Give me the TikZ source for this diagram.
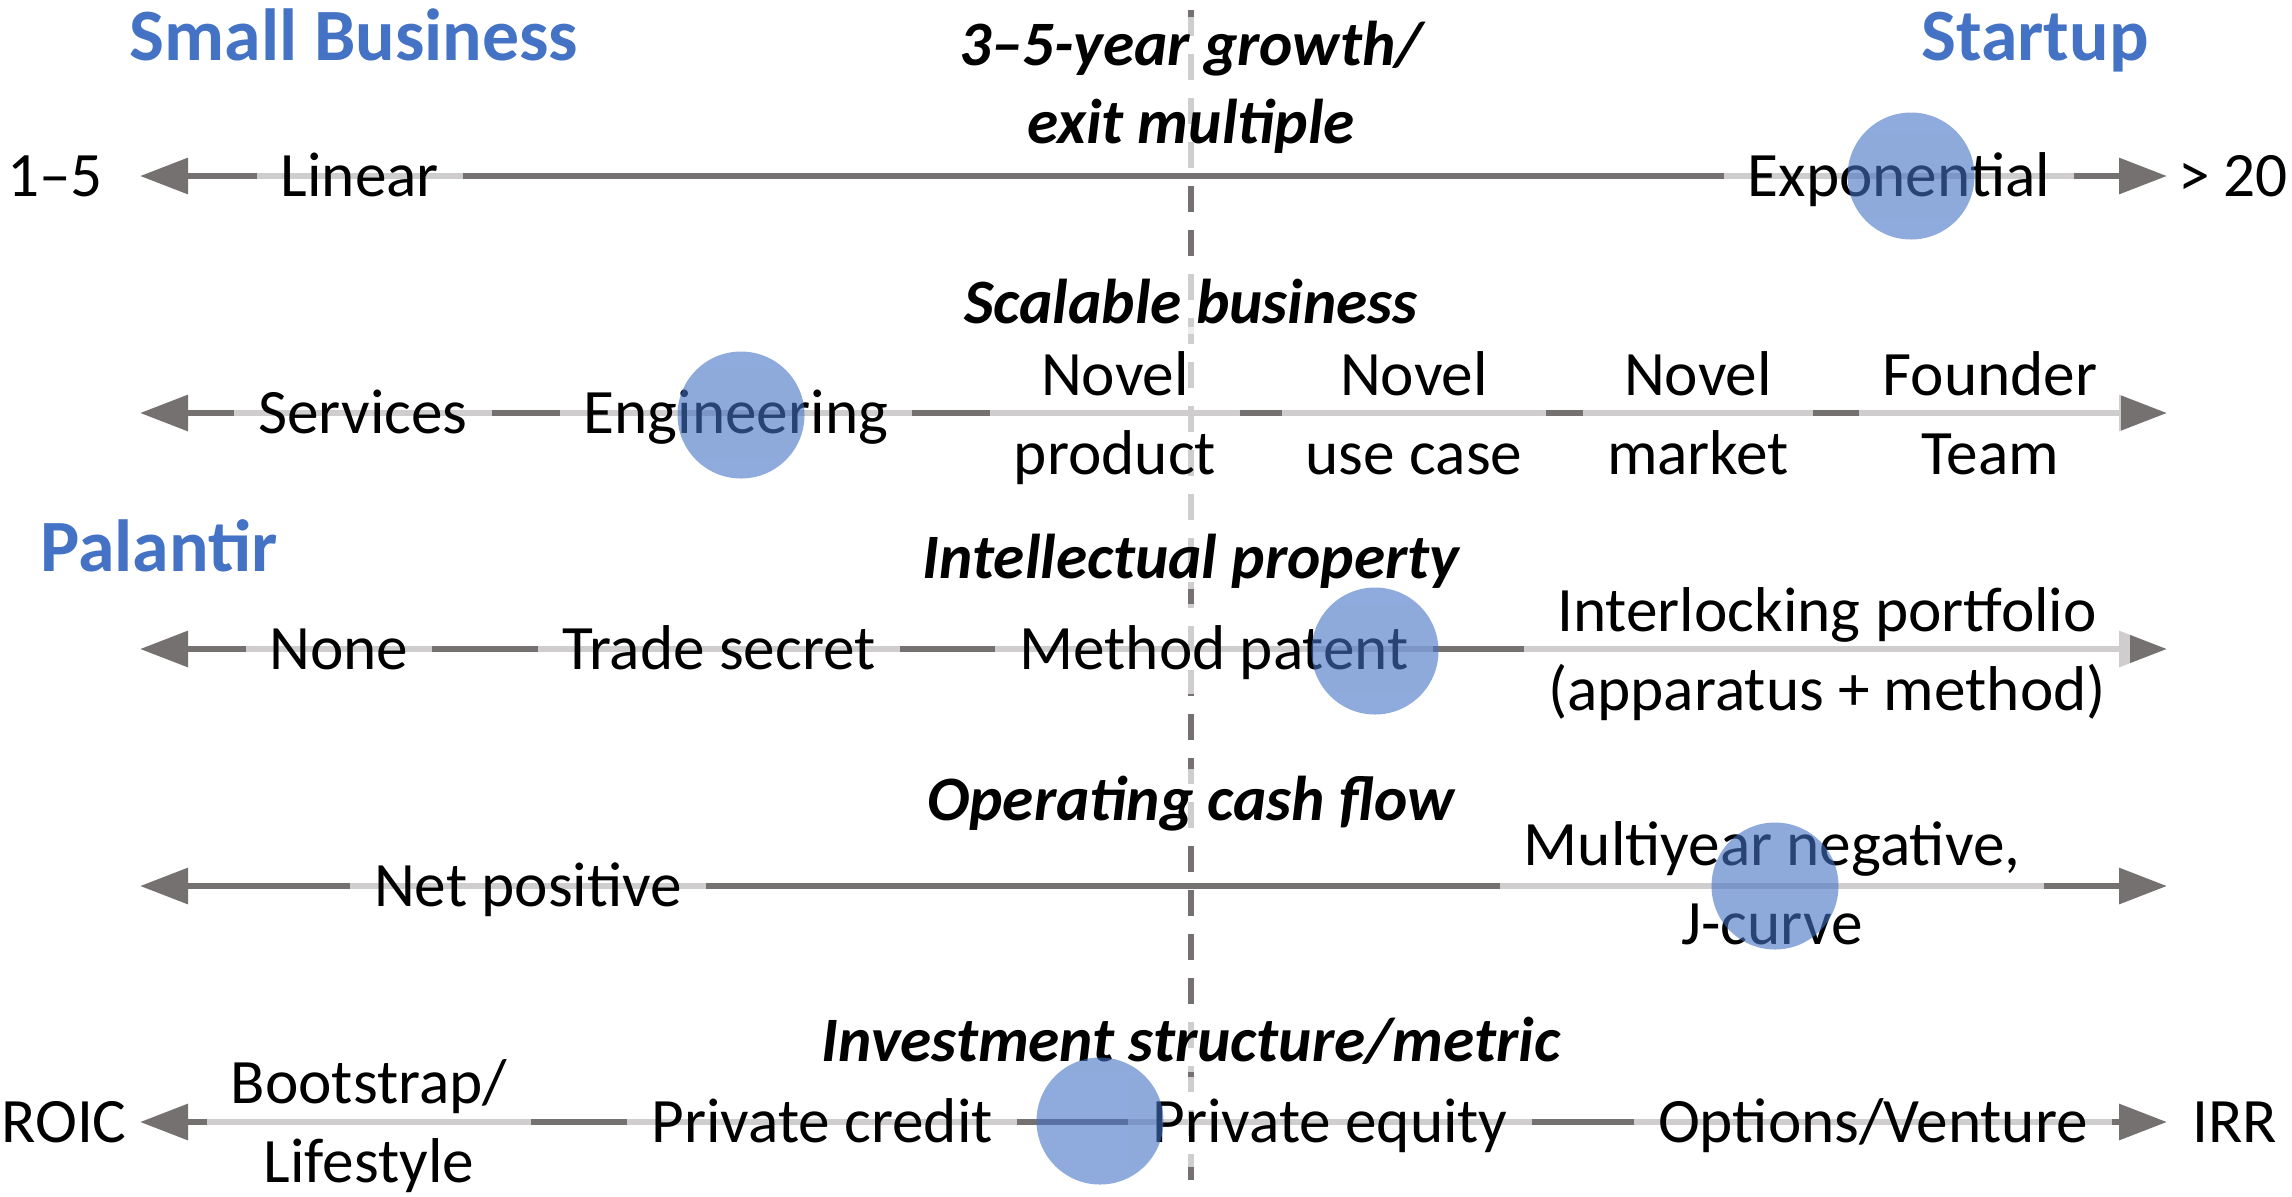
\documentclass[tikz,border=0pt]{standalone}
\usepackage{fontspec}
\setmainfont{Carlito}
\usetikzlibrary{arrows.meta}
\definecolor{axgrey}{HTML}{767171}
\definecolor{dotblue}{HTML}{4472C4}

\begin{document}
\begin{tikzpicture}
	[
	x=0.1mm, y=-0.1mm,
	lbl/.style={fill=white, fill opacity=.65, text opacity=1, inner xsep=2.4mm, inner ysep=7pt, font=\fontsize{18}{22.4}\selectfont},
	one/.style={lbl, text height=11.4pt, text depth=0pt},
	two/.style={lbl, align=center, execute at begin node=\strut, execute at end node=\strut},
	ttl/.style={fill=white, fill opacity=.65, text opacity=1, inner xsep=2mm, inner ysep=1pt, align=center, font=\fontsize{18}{22.4}\selectfont\bfseries\itshape},
	ttltwo/.style={ttl, execute at begin node=\strut, execute at end node=\strut},
	ttlone/.style={ttl, inner ysep=3pt, text height=11.4pt, text depth=0pt},
	hdr/.style={text=dotblue, inner sep=0pt, text height=13.3pt, text depth=0pt, font=\fontsize{21}{25}\selectfont\bfseries},
	side/.style={inner sep=0pt, text height=11.4pt, text depth=0pt, font=\fontsize{18}{22.4}\selectfont},
	dot/.style={circle, minimum size=12.7mm, inner sep=0pt, fill=dotblue, fill opacity=.6},
	axis/.style={draw=axgrey, line width=1.8pt, >={Triangle[length=4.8mm,width=3.5mm]}, <->},
	divider/.style={draw=axgrey, line width=1.7pt, dash pattern=on 2.6mm off 1.8mm},
	]
		\useasboundingbox (0,0) rectangle (2292,1196);
		
		% divider and axes
		\coordinate (vt) at (1191,10);
		\coordinate (vb) at (1191,1200);
		\draw[divider] (vt) -- (vb);
		\foreach \r/\y in {1/176,2/413,3/649,4/886,5/1122} {
			\coordinate (a\r w) at (140,\y);
			\coordinate (a\r e) at (2167,\y);
		}
		\foreach \r in {1,...,5} \draw[axis] (a\r w) -- (a\r e);
		
		% growth / exit multiple
		\node[ttltwo] (t1) at 		(1191,  94) {3--5-year growth/\\exit multiple};
		\node[side] (lo1) at 		(  55, 176) {1--5};
		\node[one] (lin) at 		( 360, 176) {Linear};
		\node[one] (expo) at 		(1899, 176) {Exponential};
		\node[side] (hi1) at 		(2233, 176) {> 20};
		
		% scalable business
		\node[ttlone] (t2) at 		(1191, 303) {Scalable business};
		\node[one] (serv) at 		( 363, 413) {Services};
		\node[one] (engr) at 		( 736, 413) {Engineering};
		\node[two] (nprod) at 		(1115, 425) {Novel\\product};
		\node[two] (nuse) at 		(1414, 425) {Novel\\use case};
		\node[two] (nmkt) at 		(1698, 425) {Novel\\market};
		\node[two] (fteam) at 		(1990, 425) {Founder\\Team};
		
		% intellectual property
		\node[ttlone] (t3) at 		(1191, 558) {Intellectual property};
		\node[one] (none) at 		( 339, 649) {None};
		\node[one] (tsec) at 		( 719, 649) {Trade secret};
		\node[one] (mpat) at 		(1214, 649) {Method patent};
		\node[two] (iport) at 		(1827, 661) {Interlocking portfolio\\(apparatus + method)};
		
		% operating cash flow
		\node[ttlone] (t4) at 		(1191, 800) {Operating cash flow};
		\node[one] (npos) at 		( 528, 886) {Net positive};
		\node[two] (mneg) at 		(1772, 895) {Multiyear negative,\\J-curve};
		
		% investment structure
		\node[ttlone] (t5) at 		(1191,1041) {Investment structure/metric};
		\node[side] (lo5) at 		(  64,1122) {ROIC};
		\node[two] (boot) at 		( 369,1133) {Bootstrap/\\Lifestyle};
		\node[one] (pcred) at 		( 822,1122) {Private credit};
		\node[one] (peq) at 		(1330,1122) {Private equity};
		\node[one] (optv) at 		(1873,1122) {Options/Venture};
		\node[side] (hi5) at 		(2235,1122) {IRR};
		
		% markers
		\node[dot] (m1) at 		(1911, 176) {};
		\node[dot] (m2) at 		( 741, 415) {};
		\node[dot] (m3) at 		(1375, 651) {};
		\node[dot] (m4) at 		(1775, 886) {};
		\node[dot] (m5) at 		(1100,1121) {};
		
		% headers
		\node[hdr] (hsb) at 		( 354,  37) {Small Business};
		\node[hdr] (hst) at 		(2035,  37) {Startup};
		\node[hdr] (hpal) at 		( 159, 548) {Palantir};
		
	\end{tikzpicture}
\end{document}
